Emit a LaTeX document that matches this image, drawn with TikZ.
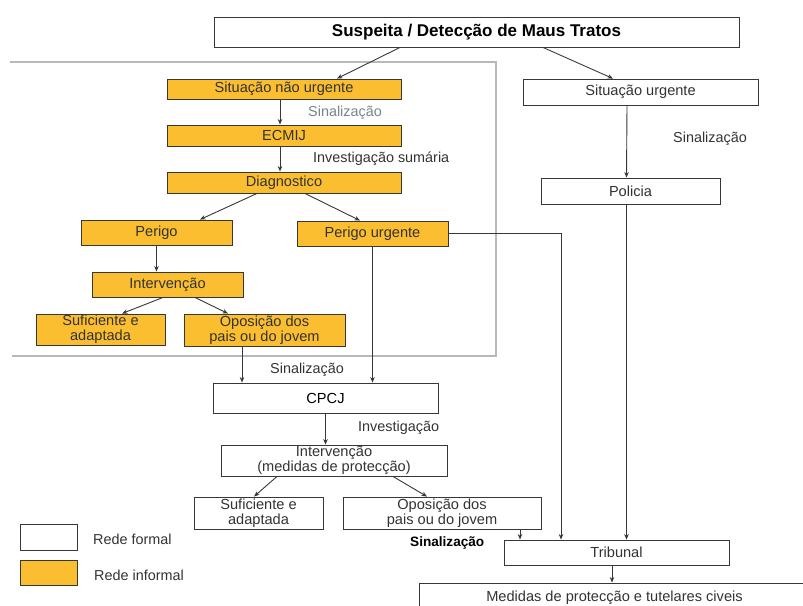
\documentclass[tikz,border=0pt]{standalone}
\usepackage{fontspec}
\setmainfont{Liberation Sans}
\usetikzlibrary{arrows.meta}
\definecolor{laranja}{RGB}{250,190,48}
\definecolor{traco}{RGB}{55,55,55}
\definecolor{cinzatxt}{RGB}{120,132,138}

\begin{document}
\begin{tikzpicture}[x=1pt, y=-1pt,
    caixa/.style={draw=traco, line width=0.9pt, inner sep=0pt, align=center,
      text=black!80, font=\fontsize{14.6}{15}\selectfont},
    formal/.style={caixa, fill=white},
    informal/.style={caixa, fill=laranja},
    lbl/.style={anchor=west, inner sep=0pt, text=black!80, font=\fontsize{14.4}{15}\selectfont},
    seta/.style={draw=traco, line width=0.9pt, -{Stealth[length=5.5pt,width=4.5pt]}}]
  \useasboundingbox (0,0) rectangle (803,605);
  % Rede informal (moldura)
  \draw[gray!55, line width=1.2pt] (10,62) -- (496,62) -- (496,356) -- (12,356);
  % caixas
  \node[formal, minimum width=525pt, minimum height=30pt,
    font=\fontsize{17}{18}\selectfont\bfseries, text=black] (titulo) at (476.5,32) {Suspeita / Detecção de Maus Tratos};
  \node[informal, minimum width=234pt, minimum height=20pt] (naourg) at (284,89) {Situação não urgente};
  \node[informal, minimum width=234pt, minimum height=21pt] (ecmij) at (284,135.5) {ECMIJ};
  \node[informal, minimum width=234pt, minimum height=21pt] (diag) at (284,182.5) {Diagnostico};
  \node[informal, minimum width=151pt, minimum height=25pt] (perigo) at (156.5,232.5) {Perigo};
  \node[informal, minimum width=151pt, minimum height=25pt] (perurg) at (372.5,233.5) {Perigo urgente};
  \node[informal, minimum width=151pt, minimum height=25pt] (interv) at (167.5,284.5) {Intervenção};
  \node[informal, minimum width=129pt, minimum height=31pt] (sufic) at (100.5,329.5) {Suficiente e\\adaptada};
  \node[informal, minimum width=161pt, minimum height=32pt] (oposic) at (264.5,330) {Oposição dos\\pais ou do jovem};
  \node[formal, minimum width=235pt, minimum height=26pt] (urgente) at (640.5,92) {Situação urgente};
  \node[formal, minimum width=179pt, minimum height=26pt] (policia) at (630.5,191) {Policia};
  \node[formal, minimum width=225pt, minimum height=30pt, text=black] (cpcj) at (325.5,398) {CPCJ};
  \node[formal, minimum width=226pt, minimum height=31pt] (intmed) at (334,460.5) {Intervenção\\(medidas de protecção)};
  \node[formal, minimum width=129pt, minimum height=32pt] (sufmed) at (258.5,513) {Suficiente e\\adaptada};
  \node[formal, minimum width=198pt, minimum height=32pt] (oposmed) at (442,513) {Oposição dos\\pais ou do jovem};
  \node[formal, minimum width=225pt, minimum height=25pt] (tribunal) at (616.5,552.5) {Tribunal};
  \node[formal, minimum width=391pt, minimum height=30pt] (medidas) at (614.5,598) {Medidas de protecção e tutelares civeis};
  % legenda
  \node[formal, minimum width=57pt, minimum height=26pt] (legform) at (48.5,537) {};
  \node[informal, minimum width=57pt, minimum height=25pt] (leginf) at (48.5,572.5) {};
  \node[lbl] (txtform) at (93,539) {Rede formal};
  \node[lbl] (txtinf) at (94,575) {Rede informal};
  % rotulos
  \node[lbl, text=cinzatxt] (sin1) at (308,113) {Sinalização};
  \node[lbl] (inv1) at (313,159) {Investigação sumária};
  \node[lbl] (sin2) at (673,139) {Sinalização};
  \node[lbl] (sin3) at (270,370) {Sinalização};
  \node[lbl] (inv2) at (358,428) {Investigação};
  \node[lbl, text=black, font=\fontsize{13.6}{15}\selectfont\bfseries] (sin4) at (410,543) {Sinalização};
  % ligacoes
  \draw[seta] ([xshift=-76.5pt]titulo.south) -- ([xshift=53pt]naourg.north);
  \draw[seta] ([xshift=66.5pt]titulo.south) -- ([xshift=-27.5pt]urgente.north);
  \draw[seta] ([xshift=-4pt]naourg.south) -- ([xshift=-4pt]ecmij.north);
  \draw[seta] ([xshift=-4pt]ecmij.south) -- ([xshift=-4pt]diag.north);
  \draw[seta] ([xshift=-27pt]diag.south) -- ([xshift=43.5pt]perigo.north);
  \draw[seta] ([xshift=21pt]diag.south) -- ([xshift=-12.5pt]perurg.north);
  \draw[seta] (perigo.south) -- (perigo.south |- interv.north);
  \draw[seta] ([xshift=-4.5pt]interv.south) -- ([xshift=21.5pt]sufic.north);
  \draw[seta] ([xshift=27.5pt]interv.south) -- ([xshift=-36.5pt]oposic.north);
  \draw[seta] ([xshift=-22.5pt]oposic.south) -- ([xshift=-22.5pt]oposic.south |- cpcj.north);
  \draw[seta] (perurg.south) -- (perurg.south |- cpcj.north);
  \draw[seta] (perurg.east) -| ([xshift=-55.5pt]tribunal.north);
  \draw[seta] ([xshift=-13.5pt]urgente.south) -- ([xshift=-4pt]policia.north);
  \draw[seta] ([xshift=-4pt]policia.south) -- ([xshift=-4pt]policia.south |- tribunal.north);
  \draw[seta] (cpcj.south) -- (cpcj.south |- intmed.north);
  \draw[seta] ([xshift=-57pt]intmed.south) -- ([xshift=-4.5pt]sufmed.north);
  \draw[seta] ([xshift=59pt]intmed.south) -- ([xshift=-15pt]oposmed.north);
  \draw[seta] ([xshift=78pt]oposmed.south) -- ([xshift=78pt]oposmed.south |- tribunal.north);
  \draw[seta] ([xshift=-4.5pt]tribunal.south) -- ([xshift=-2.5pt]medidas.north);
\end{tikzpicture}
\end{document}
